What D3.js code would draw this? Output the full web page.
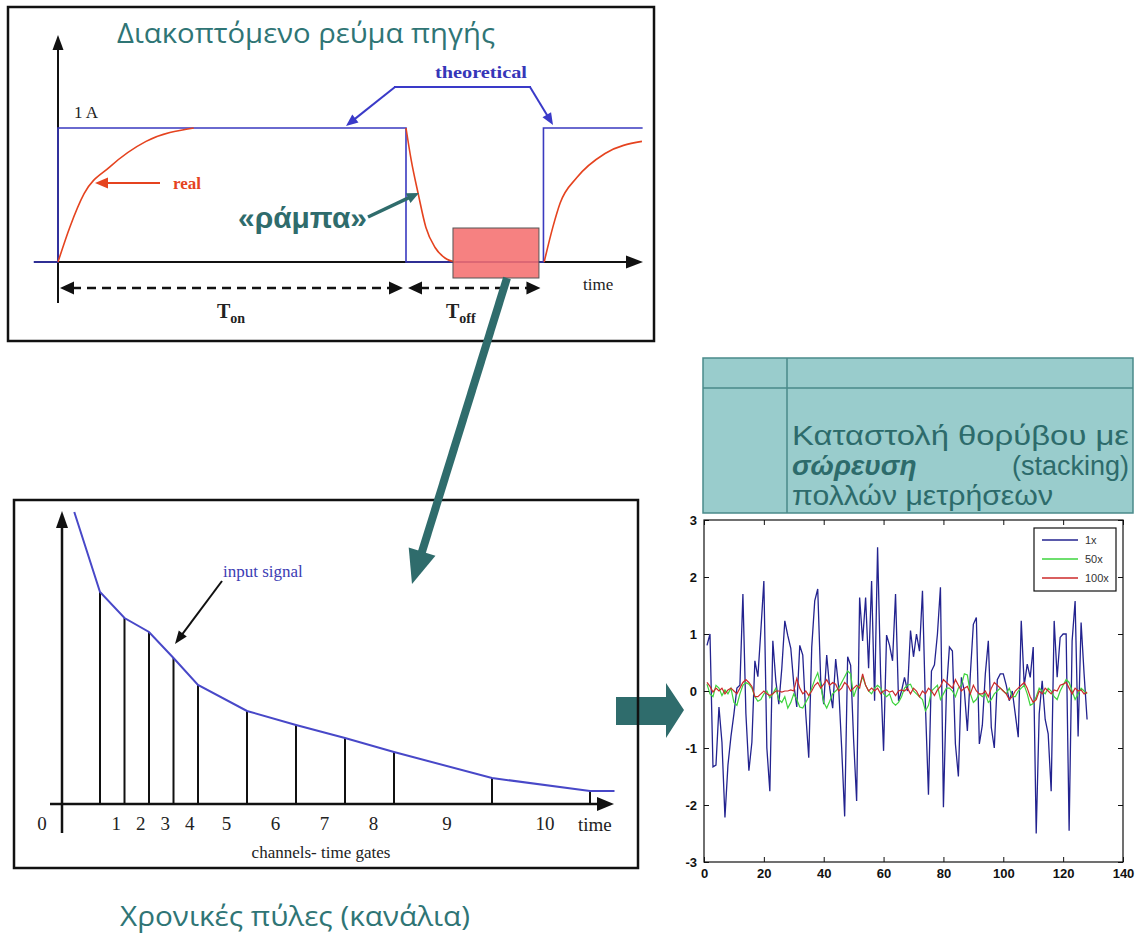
<!DOCTYPE html>
<html><head><meta charset="utf-8">
<script src="https://cdn.jsdelivr.net/npm/d3@7"></script>
<style>html,body{margin:0;padding:0;background:#fff;} svg{display:block}</style>
</head><body>
<svg id="c" width="1135" height="936"></svg>
<script>
// ---------- DATA ----------
// Top panel: interrupted source current (time units, current in A)
const theoT = [-0.7, 0, 0, 10, 10, 13.95, 13.95, 16.8];
const theoI = [0, 0, 1, 1, 0, 0, 1, 1];
const realRiseT = [0, 0.34, 0.75, 1.49, 2.53, 3.9];
const realRiseI = [0, 0.26, 0.51, 0.71, 0.9, 1.0];
const realFallT = [10, 10.15, 10.35, 10.57, 10.83, 11.12, 11.43];
const realFallI = [1, 0.76, 0.51, 0.26, 0.11, 0.03, 0];
const realRise2T = [13.97, 14.22, 14.43, 14.91, 15.72, 16.78];
const realRise2I = [0, 0.26, 0.44, 0.63, 0.81, 0.9];
const tOn = 10, tOffEnd = 13.95;
const windowT = [11.35, 13.82];

// Bottom-left panel: decaying input signal and time gates
const gateTimes = [1.5, 2.5, 3.5, 4.5, 5.5, 7.5, 9.5, 11.5, 13.5, 17.5, 21.5];
const signalT = [0.45, 1.5, 2.5, 3.5, 4.5, 5.5, 7.5, 9.5, 11.5, 13.5, 17.5, 21.5, 22.5];
const signalV = [292, 212, 186, 172, 146, 119, 93, 79, 66, 52, 26, 13, 13];
const channelLabels = ["1","2","3","4","5","6","7","8","9","10"];

// Right panel: noise suppression by stacking
const series1x = [0.8,1.0,-1.33,-1.3,-0.28,-0.9,-2.22,-1.3,-0.8,-0.4,
 0.05,0.1,1.7,-0.4,-1.4,-0.9,0.53,0.25,1.06,1.93,
 -1.0,-1.76,0.88,0.18,-0.23,0.4,1.23,0.97,0.75,0.12,
 -0.28,0.8,0.63,-0.4,-1.17,0.77,1.58,1.79,0.18,-0.23,
 0.63,0.05,-0.3,0.56,0.06,-1.0,-2.2,0.6,0.45,-0.87,
 -1.93,1.64,0.88,1.64,0.4,1.93,-0.17,2.52,0.3,-1.05,
 0.98,0.8,0.53,1.7,-0.17,0.0,0.24,0.0,1.06,0.6,
 1.0,0.7,1.76,-0.28,-1.82,0.35,0.46,1.0,1.82,-2.04,
 0.0,0.77,0.7,-0.93,-1.5,0.24,0.0,-0.7,0.3,1.17,
 1.29,-0.93,-0.6,0.3,0.88,-0.64,-1.0,0.2,0.3,0.3,
 0.1,-0.17,0.0,-0.4,-0.81,1.23,0.1,0.47,0.24,0.77,
 -2.5,-0.4,0.18,-0.5,-0.75,-1.76,1.23,0.24,0.94,1.0,
 1.0,-2.45,0.88,1.58,-0.8,1.2,0.3,-0.5];
const series50x = [0.12,-0.05,-0.1,0.1,0.05,-0.08,0.02,-0.05,0.05,-0.2,
 -0.25,-0.05,0.1,0.15,0.12,0.05,-0.1,-0.18,-0.15,-0.05,
 0.0,-0.12,-0.05,0.05,-0.15,-0.2,-0.1,-0.3,-0.2,-0.05,
 -0.15,-0.28,-0.3,-0.2,-0.1,0.05,0.2,0.32,0.1,-0.2,
 -0.3,-0.18,-0.05,0.0,0.05,0.15,0.25,0.35,0.3,-0.1,
 0.05,0.1,0.25,0.1,0.0,-0.05,0.05,0.1,0.05,-0.05,
 -0.1,-0.05,-0.2,-0.25,-0.2,-0.1,0.05,0.1,0.12,0.0,
 -0.05,-0.1,-0.15,-0.35,-0.25,0.0,0.05,0.1,-0.15,-0.05,
 0.05,0.05,0.0,-0.1,0.05,0.1,0.3,0.28,-0.05,-0.2,
 -0.15,-0.05,-0.1,-0.05,-0.2,-0.15,-0.05,0.0,0.05,0.0,
 -0.05,0.05,-0.1,-0.1,0.0,0.05,0.1,-0.05,-0.25,-0.22,
 -0.1,0.05,0.0,-0.05,0.05,0.0,-0.1,-0.15,0.0,0.1,
 0.2,0.15,0.0,-0.15,-0.05,0.05,0.0,-0.05];
const series100x = [0.15,0.08,-0.02,0.05,0.0,0.05,-0.05,0.02,0.05,0.0,
 -0.05,0.05,0.15,0.2,0.15,0.08,-0.1,-0.1,-0.05,0.0,
 -0.05,-0.08,-0.05,0.0,0.0,-0.02,0.0,0.0,0.02,0.0,
 0.22,0.05,-0.05,0.0,-0.08,0.0,0.1,0.15,0.05,0.12,
 0.2,0.1,0.15,0.12,0.0,0.05,0.15,0.1,0.0,0.05,
 0.1,0.05,0.3,0.1,0.0,0.05,0.0,0.05,-0.05,0.0,
 0.02,-0.02,0.0,-0.08,0.0,0.02,0.0,0.05,-0.05,0.05,
 0.0,-0.1,0.0,-0.05,0.05,0.0,-0.08,0.02,0.08,0.2,
 0.15,0.1,0.05,0.2,0.1,0.0,0.05,0.08,-0.05,0.1,
 0.0,-0.05,-0.05,0.0,-0.1,0.05,0.15,0.1,0.05,0.0,
 -0.05,-0.15,-0.1,0.0,0.05,0.1,0.15,0.05,-0.1,-0.2,
 -0.15,0.0,-0.05,0.05,0.0,-0.05,0.02,0.0,0.1,0.12,
 0.15,0.05,-0.05,0.05,0.0,0.02,-0.05,-0.02];
const seriesNames = ["1x", "50x", "100x"];
const noiseXTicks = [0,20,40,60,80,100,120,140];
const noiseYTicks = [-3,-2,-1,0,1,2,3];

// ---------- HELPERS ----------
const svg = d3.select("#c");
svg.append("rect").attr("width",1135).attr("height",936).attr("fill","#fff");
const TEAL = "#2f6c6c";
const SERIF = "'Liberation Serif','Times New Roman',serif";
const SANS = "'Liberation Sans',Arial,sans-serif";

function arrow(g, x1, y1, x2, y2, o) {
  const dx = x2 - x1, dy = y2 - y1, L = Math.hypot(dx, dy), ux = dx / L, uy = dy / L;
  const bx = x2 - ux * o.headLen, by = y2 - uy * o.headLen;
  g.append("line").attr("x1", x1).attr("y1", y1).attr("x2", bx + ux * 1).attr("y2", by + uy * 1)
    .attr("stroke", o.color).attr("stroke-width", o.width);
  const hw = o.headW / 2;
  g.append("polygon").attr("points",
    [[x2, y2], [bx - uy * hw, by + ux * hw], [bx + uy * hw, by - ux * hw]].map(p => p.join(",")).join(" "))
    .attr("fill", o.color);
}
function head(g, x1, y1, x2, y2, len, w, color) {
  const dx = x2 - x1, dy = y2 - y1, L = Math.hypot(dx, dy), ux = dx / L, uy = dy / L;
  const bx = x2 - ux * len, by = y2 - uy * len, hw = w / 2;
  g.append("polygon").attr("points",
    [[x2, y2], [bx - uy * hw, by + ux * hw], [bx + uy * hw, by - ux * hw]].map(p => p.join(",")).join(" "))
    .attr("fill", color);
}

// ---------- TOP PANEL ----------
const tp = svg.append("g");
const tX = d3.scaleLinear().domain([0, 10]).range([58, 406]);
const tY = d3.scaleLinear().domain([0, 1]).range([262, 128]);

tp.append("text").attr("x", 117).attr("y", 43).text("Διακοπτόμενο ρεύμα πηγής")
  .attr("font-family", "'Open Sans',sans-serif").attr("font-size", 27).attr("fill", "#2f7575")
  .attr("textLength", 378).attr("lengthAdjust", "spacingAndGlyphs");

// axes
arrow(tp, 58, 303, 58, 35, {color: "#111", width: 2, headLen: 15, headW: 11});
arrow(tp, 34, 262, 643, 262, {color: "#111", width: 2, headLen: 17, headW: 13});

// theoretical
const lineT = d3.line().x(d => tX(d[0])).y(d => tY(d[1]));
tp.append("path").attr("d", lineT(theoT.map((t, i) => [t, theoI[i]])))
  .attr("fill", "none").attr("stroke", "#3a3ac0").attr("stroke-width", 1.6);

// real
const lineR = d3.line().x(d => tX(d[0])).y(d => tY(d[1])).curve(d3.curveMonotoneX);
[[realRiseT, realRiseI], [realFallT, realFallI], [realRise2T, realRise2I]].forEach(([T, I]) => {
  tp.append("path").attr("d", lineR(T.map((t, i) => [t, I[i]])))
    .attr("fill", "none").attr("stroke", "#e5431f").attr("stroke-width", 1.6);
});

tp.append("text").attr("x", 74).attr("y", 118).text("1 A")
  .attr("font-family", SERIF).attr("font-size", 17).attr("fill", "#222");

// theoretical label + arrows
tp.append("text").attr("x", 435).attr("y", 78).text("theoretical")
  .attr("font-family", SERIF).attr("font-size", 17).attr("font-weight", "bold").attr("fill", "#3636b8")
  .attr("textLength", 92).attr("lengthAdjust", "spacingAndGlyphs");
tp.append("line").attr("x1", 394).attr("y1", 87).attr("x2", 531).attr("y2", 87)
  .attr("stroke", "#3a3ac8").attr("stroke-width", 2);
arrow(tp, 395, 87, 346, 126, {color: "#3a3ac8", width: 2, headLen: 12, headW: 10});
arrow(tp, 530, 87, 553, 125, {color: "#3a3ac8", width: 2, headLen: 12, headW: 10});

// real label
tp.append("text").attr("x", 173).attr("y", 189).text("real")
  .attr("font-family", SERIF).attr("font-size", 17).attr("font-weight", "bold").attr("fill", "#e5431f");
arrow(tp, 160, 183, 95, 183, {color: "#e5431f", width: 2, headLen: 13, headW: 11});

// ramp label
tp.append("text").attr("x", 238).attr("y", 228).text("«ράμπα»")
  .attr("font-family", SANS).attr("font-size", 29).attr("font-weight", "bold").attr("fill", TEAL)
  .attr("textLength", 129).attr("lengthAdjust", "spacingAndGlyphs");
arrow(tp, 368, 217, 419, 193, {color: TEAL, width: 3.5, headLen: 12, headW: 11});

// pink window (late-time measurement window)
tp.append("rect").attr("x", tX(windowT[0])).attr("y", 228)
  .attr("width", tX(windowT[1]) - tX(windowT[0])).attr("height", 50)
  .attr("fill", "#f56f6f").attr("fill-opacity", 0.88).attr("stroke", "#555").attr("stroke-width", 1);

// dashed double arrows
const dashY = 288;
function dbl(xa, xb) {
  tp.append("line").attr("x1", xa + 12).attr("y1", dashY).attr("x2", xb - 12).attr("y2", dashY)
    .attr("stroke", "#111").attr("stroke-width", 2.5).attr("stroke-dasharray", "9,6");
  head(tp, xb, dashY, xa, dashY, 14, 13, "#111");
  head(tp, xa, dashY, xb, dashY, 14, 13, "#111");
}
dbl(tX(0) + 2, tX(tOn) - 3);
dbl(tX(tOn) + 2, tX(tOffEnd) - 3);

tp.append("text").attr("x", 583).attr("y", 290).text("time")
  .attr("font-family", SERIF).attr("font-size", 17).attr("fill", "#222");
function tsub(x, sub) {
  const t = tp.append("text").attr("x", x).attr("y", 318)
    .attr("font-family", SERIF).attr("font-weight", "bold").attr("fill", "#222");
  t.append("tspan").text("T").attr("font-size", 20);
  t.append("tspan").text(sub).attr("font-size", 14).attr("dy", 5);
}
tsub(217, "on");
tsub(446, "off");

tp.append("rect").attr("x", 8).attr("y", 7).attr("width", 646).attr("height", 334)
  .attr("fill", "none").attr("stroke", "#111").attr("stroke-width", 2.5);

// ---------- BOTTOM-LEFT PANEL ----------
const bl = svg.append("g");
const gX = d3.scaleLinear().domain([0, 22]).range([63.25, 602.25]);
const sY = d3.scaleLinear().domain([0, 300]).range([804, 504]);

const sigInterp = t => {
  for (let i = 0; i < signalT.length - 1; i++) {
    if (t >= signalT[i] && t <= signalT[i + 1]) {
      const f = (t - signalT[i]) / (signalT[i + 1] - signalT[i]);
      return signalV[i] + f * (signalV[i + 1] - signalV[i]);
    }
  }
  return signalV[signalV.length - 1];
};
bl.selectAll("line.stem").data(gateTimes).enter().append("line")
  .attr("x1", d => gX(d)).attr("x2", d => gX(d))
  .attr("y1", sY(0)).attr("y2", d => sY(sigInterp(d)))
  .attr("stroke", "#111").attr("stroke-width", 2);

bl.append("path").attr("d", d3.line().x(d => gX(d[0])).y(d => sY(d[1]))(signalT.map((t, i) => [t, signalV[i]])))
  .attr("fill", "none").attr("stroke", "#4848c8").attr("stroke-width", 2);

arrow(bl, 62, 833, 62, 511, {color: "#111", width: 2.5, headLen: 17, headW: 12});
arrow(bl, 50, 804, 614, 804, {color: "#111", width: 2.5, headLen: 17, headW: 14});

const mids = gateTimes.slice(0, -1).map((g, i) => (g + gateTimes[i + 1]) / 2);
bl.selectAll("text.ch").data(channelLabels).enter().append("text")
  .attr("x", (d, i) => gX(mids[i]) + 4).attr("y", 830).attr("text-anchor", "middle")
  .text(d => d).attr("font-family", SERIF).attr("font-size", 19).attr("fill", "#222");
bl.append("text").attr("x", 42).attr("y", 830).attr("text-anchor", "middle").text("0")
  .attr("font-family", SERIF).attr("font-size", 19).attr("fill", "#222");
bl.append("text").attr("x", 578).attr("y", 831).text("time")
  .attr("font-family", SERIF).attr("font-size", 19).attr("fill", "#222");
bl.append("text").attr("x", 321).attr("y", 858).attr("text-anchor", "middle").text("channels- time gates")
  .attr("font-family", SERIF).attr("font-size", 17).attr("fill", "#222");
bl.append("text").attr("x", 223).attr("y", 577).text("input signal")
  .attr("font-family", SERIF).attr("font-size", 17).attr("fill", "#3c3cb4");
arrow(bl, 222, 581, 175, 644, {color: "#111", width: 2, headLen: 13, headW: 10});

bl.append("text").attr("x", 295).attr("y", 926).attr("text-anchor", "middle").text("Χρονικές πύλες (κανάλια)")
  .attr("font-family", "'Open Sans',sans-serif").attr("font-size", 27).attr("fill", "#2f7575")
  .attr("textLength", 350).attr("lengthAdjust", "spacingAndGlyphs");

// block arrow (right)
bl.append("polygon").attr("points", "616,697 666,697 666,683 684,710 666,738 666,725 616,725")
  .attr("fill", TEAL);

bl.append("rect").attr("x", 14).attr("y", 500).attr("width", 624).attr("height", 368)
  .attr("fill", "none").attr("stroke", "#111").attr("stroke-width", 2.5);

// big teal arrow between panels
arrow(svg, 507, 278, 412, 584, {color: TEAL, width: 8, headLen: 34, headW: 28});

// ---------- TABLE ----------
const tb = svg.append("g");
tb.append("rect").attr("x", 703).attr("y", 358).attr("width", 430).attr("height", 155)
  .attr("fill", "#99cccc").attr("stroke", "#4a8a8a").attr("stroke-width", 1.5);
tb.append("line").attr("x1", 703).attr("x2", 1133).attr("y1", 388).attr("y2", 388).attr("stroke", "#4a8a8a").attr("stroke-width", 1.5);
tb.append("line").attr("x1", 787).attr("x2", 787).attr("y1", 358).attr("y2", 513).attr("stroke", "#4a8a8a").attr("stroke-width", 1.5);
const tf = (x, y, s) => tb.append("text").attr("x", x).attr("y", y).text(s)
  .attr("font-family", SANS).attr("font-size", 27).attr("fill", "#2d6b6b");
tf(792, 445, "Καταστολή θορύβου με").attr("textLength", 337).attr("lengthAdjust", "spacingAndGlyphs");
tf(792, 475, "σώρευση").attr("font-weight", "bold").attr("font-style", "italic").attr("font-size", 28);
tf(1129, 475, "(stacking)").attr("text-anchor", "end");
tf(792, 505, "πολλών μετρήσεων").attr("textLength", 261).attr("lengthAdjust", "spacingAndGlyphs");

// ---------- NOISE CHART ----------
const nc = svg.append("g");
const xN = d3.scaleLinear().domain([0, 140]).range([704, 1123]);
const yN = d3.scaleLinear().domain([-3, 3]).range([862, 520]);
nc.append("rect").attr("x", 704).attr("y", 520).attr("width", 419).attr("height", 342).attr("fill", "#fff");
const colors = ["#23238f", "#3ed43e", "#cc2a2a"];
const nLine = d3.line().x((d, i) => xN(i + 1)).y(d => yN(d));
[series1x, series50x, series100x].forEach((s, k) => {
  nc.append("path").attr("d", nLine(s)).attr("fill", "none")
    .attr("stroke", colors[k]).attr("stroke-width", k === 0 ? 1.3 : 1.2);
});
const styleAxis = (g, labels) => {
  g.select(".domain").remove();
  g.selectAll(".tick line").attr("stroke", "#111");
  g.selectAll("text").attr("font-family", SANS).attr("font-size", 13).attr("font-weight", "bold")
    .attr("fill", "#111").style("display", labels ? null : "none");
};
nc.append("g").attr("transform", "translate(0,862)")
  .call(d3.axisBottom(xN).tickValues(noiseXTicks).tickSize(-5).tickPadding(7).tickFormat(d => String(d)))
  .call(g => styleAxis(g, true));
nc.append("g").attr("transform", "translate(0,520)")
  .call(d3.axisTop(xN).tickValues(noiseXTicks).tickSize(-5).tickFormat(""))
  .call(g => styleAxis(g, false));
nc.append("g").attr("transform", "translate(704,0)")
  .call(d3.axisLeft(yN).tickValues(noiseYTicks).tickSize(-5).tickPadding(7).tickFormat(d => String(d)))
  .call(g => styleAxis(g, true));
nc.append("g").attr("transform", "translate(1123,0)")
  .call(d3.axisRight(yN).tickValues(noiseYTicks).tickSize(-5).tickFormat(""))
  .call(g => styleAxis(g, false));
nc.append("rect").attr("x", 704).attr("y", 520).attr("width", 419).attr("height", 342)
  .attr("fill", "none").attr("stroke", "#111").attr("stroke-width", 1.2);

// legend
const lg = nc.append("g");
lg.append("rect").attr("x", 1034).attr("y", 528).attr("width", 82).attr("height", 63)
  .attr("fill", "#fff").attr("stroke", "#111").attr("stroke-width", 1.2);
seriesNames.forEach((n, k) => {
  const y = 540 + k * 19;
  lg.append("line").attr("x1", 1042).attr("x2", 1078).attr("y1", y).attr("y2", y)
    .attr("stroke", colors[k]).attr("stroke-width", 1.3);
  lg.append("text").attr("x", 1085).attr("y", y + 4).text(n)
    .attr("font-family", SANS).attr("font-size", 11).attr("fill", "#333");
});
</script>
</body></html>
